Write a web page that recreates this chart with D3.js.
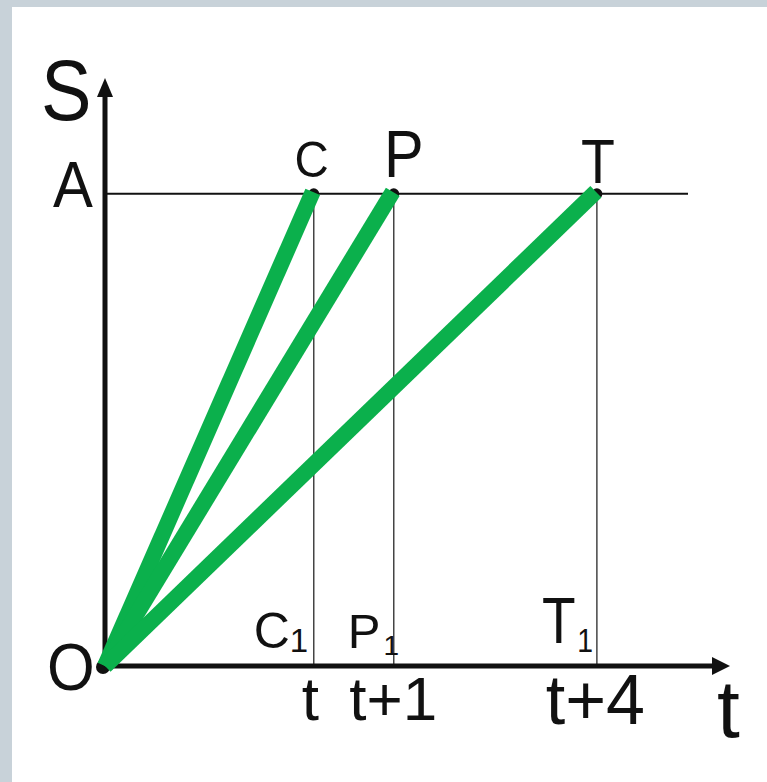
<!DOCTYPE html>
<html>
<head>
<meta charset="utf-8">
<script src="https://cdn.jsdelivr.net/npm/d3@7"></script>
<style>
  html, body { margin: 0; padding: 0; background: #fff; }
  svg { display: block; }
  text { font-family: "Liberation Sans", Arial, sans-serif; fill: #111; }
</style>
</head>
<body>
<svg width="767" height="782"></svg>
<script>
// datos del esquema (unidades arbitrarias, 0..100 en cada eje)
const puntos = ["C", "P", "T"];
const tiempos = [33.4, 46.2, 78.7];
const etiquetasTiempo = ["t", "t+1", "t+4"];
const etiquetasPie = ["C", "P", "T"];
const nivelA = 80.3;

const svg = d3.select("svg");
const width = +svg.attr("width");
const height = +svg.attr("height");

// marco gris
svg.append("rect").attr("width", width).attr("height", height).attr("fill", "#c8d2d9");
svg.append("rect").attr("x", 12).attr("y", 7).attr("width", width - 12).attr("height", height - 7).attr("fill", "#fff");

const x = d3.scaleLinear().domain([0, 100]).range([105, 730]);
const y = d3.scaleLinear().domain([0, 100]).range([666, 78]);

const datos = puntos.map((p, i) => ({ nombre: p, t: tiempos[i], etiqueta: etiquetasTiempo[i], pie: etiquetasPie[i] }));

// estilos de las etiquetas (tamaño, escala horizontal y desplazamientos)
const estiloPunto = [
  { size: 50, dx: -2, dy: -17, sx: 0.95 },
  { size: 66, dx: 10, dy: -17, sx: 0.9 },
  { size: 63, dx: 1, dy: -11, sx: 0.88 }
];
const estiloPie = [
  { size: 50, x: -60, sub: 33, subDx: 0, subDy: 4, dy: -18, sx: 1 },
  { size: 49, x: -46, sub: 28, subDx: 3, subDy: 7, dy: -18, sx: 1 },
  { size: 64, x: -55, sub: 33, subDx: 2, subDy: 9, dy: -23, sx: 0.86 }
];
const estiloTick = [
  { size: 62, dx: -4 },
  { size: 62, dx: -1 },
  { size: 70, dx: -2 }
];

// línea horizontal A
svg.append("line")
  .attr("x1", x(0)).attr("x2", 688)
  .attr("y1", y(nivelA)).attr("y2", y(nivelA))
  .attr("stroke", "#111").attr("stroke-width", 2);

// verticales hasta el eje t
svg.selectAll("line.vertical")
  .data(datos)
  .enter().append("line")
  .attr("class", "vertical")
  .attr("x1", d => x(d.t)).attr("x2", d => x(d.t))
  .attr("y1", y(nivelA)).attr("y2", y(0))
  .attr("stroke", "#444").attr("stroke-width", 1.5);

// ejes
const ejeX = d3.axisBottom(x)
  .tickValues(tiempos)
  .tickFormat((d, i) => etiquetasTiempo[i])
  .tickSize(0).tickPadding(0).tickSizeOuter(0);

const gx = svg.append("g").attr("transform", `translate(0,${y(0)})`).call(ejeX);
gx.select(".domain").attr("d", `M${x(0) - 2},0H${x(100) - 14}`).attr("stroke", "#111").attr("stroke-width", 5);
gx.selectAll(".tick text")
  .attr("fill", "#111")
  .style("font-family", '"Liberation Sans", Arial, sans-serif')
  .attr("font-size", (d, i) => estiloTick[i].size)
  .attr("dx", (d, i) => estiloTick[i].dx)
  .attr("dy", 0)
  .attr("y", (d, i) => i === 2 ? 58 : 54)
  .attr("text-anchor", "middle");

const ejeY = d3.axisLeft(y).tickValues([]).tickSize(0).tickSizeOuter(0);
const gy = svg.append("g").attr("transform", `translate(${x(0)},0)`).call(ejeY);
gy.select(".domain").attr("d", `M0,${y(0) + 2}V${y(100) + 14}`).attr("stroke", "#111").attr("stroke-width", 5);

// puntas de flecha
svg.append("path")
  .attr("d", `M${x(100)},${y(0)}L${x(100) - 18},${y(0) - 9}L${x(100) - 18},${y(0) + 9}Z`)
  .attr("fill", "#111");
svg.append("path")
  .attr("d", `M${x(0)},${y(100)}L${x(0) - 8},${y(100) + 19}L${x(0) + 8},${y(100) + 19}Z`)
  .attr("fill", "#111");

// puntos
svg.selectAll("circle.punto")
  .data(datos)
  .enter().append("circle")
  .attr("class", "punto")
  .attr("cx", d => x(d.t)).attr("cy", y(nivelA))
  .attr("r", 5.5).attr("fill", "#111");
svg.append("circle").attr("cx", x(0) - 2).attr("cy", y(0) + 1).attr("r", 7).attr("fill", "#111");

// rectas verdes desde el origen
svg.selectAll("line.recta")
  .data(datos)
  .enter().append("line")
  .attr("class", "recta")
  .attr("x1", x(0)).attr("y1", y(0))
  .attr("x2", d => x(d.t) - 1).attr("y2", y(nivelA) - 2)
  .attr("stroke", "#0bb04c").attr("stroke-width", 16)
  .attr("stroke-linecap", "butt");

// etiquetas de los puntos
svg.selectAll("text.punto")
  .data(datos)
  .enter().append("text")
  .attr("class", "punto")
  .attr("transform", (d, i) => `translate(${x(d.t) + estiloPunto[i].dx},${y(nivelA) + estiloPunto[i].dy}) scale(${estiloPunto[i].sx},1)`)
  .attr("text-anchor", "middle")
  .attr("font-size", (d, i) => estiloPunto[i].size)
  .text(d => d.nombre);

// etiquetas al pie (C1, P1, T1)
const pies = svg.selectAll("text.pie")
  .data(datos)
  .enter().append("text")
  .attr("class", "pie")
  .attr("transform", (d, i) => `translate(${x(d.t) + estiloPie[i].x},${y(0) + estiloPie[i].dy}) scale(${estiloPie[i].sx},1)`)
  .attr("font-size", (d, i) => estiloPie[i].size);
pies.append("tspan").text(d => d.pie);
pies.append("tspan")
  .attr("dx", (d, i) => estiloPie[i].subDx)
  .attr("dy", (d, i) => estiloPie[i].subDy)
  .attr("font-size", (d, i) => estiloPie[i].sub)
  .text("1");

// nombres de los ejes
svg.append("text").attr("transform", "translate(41,120) scale(0.88,1)").attr("font-size", 86).text("S");
svg.append("text").attr("transform", `translate(53,${y(nivelA) + 13}) scale(0.92,1)`).attr("font-size", 65).text("A");
svg.append("text").attr("transform", `translate(47,${y(0) + 24}) scale(0.93,1)`).attr("font-size", 66).text("O");
svg.append("text").attr("x", 717).attr("y", 737).attr("font-size", 82).text("t");
</script>
</body>
</html>
